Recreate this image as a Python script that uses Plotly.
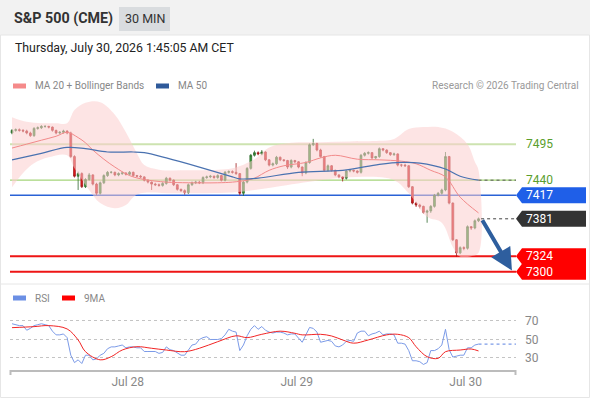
import plotly.graph_objects as go

W, H = 590, 400

# 30 min candles, bar 0 = first bar on screen
opens = [7512, 7516, 7517, 7516, 7515, 7512, 7508, 7519, 7520, 7522,
         7522, 7521, 7516, 7512, 7513, 7515, 7512, 7476, 7446, 7450,
         7430, 7441, 7448, 7434, 7420, 7436, 7447, 7452, 7452, 7448,
         7450, 7451, 7449, 7452, 7447, 7446, 7445, 7440, 7437, 7434,
         7433, 7432, 7435, 7443, 7440, 7433, 7426, 7424, 7421, 7433,
         7436, 7437, 7436, 7444, 7445, 7446, 7444, 7447, 7440, 7452,
         7453, 7452, 7450, 7420, 7437, 7458, 7478, 7482, 7480, 7483,
         7471, 7463, 7465, 7475, 7471, 7470, 7460, 7470, 7468, 7460,
         7451, 7467, 7494, 7496, 7486, 7476, 7455, 7462, 7455, 7448,
         7445, 7443, 7454, 7455, 7454, 7452, 7478, 7481, 7482, 7474,
         7476, 7488, 7486, 7482, 7479, 7480, 7463, 7463, 7462, 7430,
         7405, 7402, 7400, 7391, 7393, 7400, 7417, 7420, 7425, 7476,
         7405, 7349, 7329, 7337, 7336, 7369, 7367, 7378]
highs = [7518, 7519, 7519, 7518, 7517, 7514, 7521, 7522, 7524, 7524,
         7523, 7522, 7517, 7515, 7517, 7516, 7514, 7478, 7453, 7452,
         7443, 7451, 7449, 7436, 7438, 7449, 7454, 7454, 7453, 7452,
         7453, 7452, 7454, 7453, 7448, 7448, 7446, 7441, 7438, 7436,
         7435, 7437, 7445, 7444, 7441, 7434, 7427, 7426, 7435, 7438,
         7439, 7439, 7446, 7447, 7448, 7447, 7449, 7448, 7454, 7455,
         7455, 7466, 7451, 7439, 7460, 7480, 7485, 7484, 7486, 7484,
         7472, 7467, 7477, 7476, 7472, 7471, 7472, 7471, 7469, 7461,
         7469, 7496, 7503, 7497, 7488, 7477, 7464, 7463, 7456, 7449,
         7446, 7456, 7457, 7456, 7455, 7480, 7483, 7484, 7483, 7477,
         7490, 7489, 7487, 7483, 7482, 7481, 7465, 7465, 7463, 7431,
         7407, 7404, 7401, 7395, 7402, 7419, 7422, 7427, 7483, 7477,
         7406, 7350, 7339, 7339, 7371, 7370, 7380, 7383]
lows = [7510, 7514, 7514, 7513, 7510, 7506, 7506, 7517, 7518, 7520,
        7519, 7514, 7510, 7510, 7511, 7510, 7474, 7444, 7425, 7428,
        7428, 7439, 7432, 7417, 7418, 7434, 7445, 7450, 7446, 7446,
        7448, 7447, 7447, 7445, 7444, 7443, 7438, 7435, 7425, 7431,
        7430, 7430, 7433, 7438, 7431, 7424, 7422, 7418, 7419, 7431,
        7434, 7434, 7434, 7442, 7443, 7442, 7442, 7438, 7438, 7450,
        7450, 7448, 7417, 7416, 7435, 7456, 7476, 7478, 7478, 7469,
        7461, 7461, 7463, 7469, 7468, 7457, 7458, 7466, 7458, 7446,
        7449, 7465, 7492, 7484, 7474, 7453, 7453, 7453, 7446, 7443,
        7438, 7441, 7452, 7452, 7450, 7450, 7476, 7479, 7472, 7472,
        7474, 7484, 7480, 7477, 7477, 7461, 7460, 7460, 7428, 7403,
        7399, 7397, 7389, 7375, 7390, 7398, 7415, 7418, 7423, 7403,
        7347, 7323, 7327, 7333, 7334, 7364, 7365, 7376]
closes = [7516, 7517, 7516, 7515, 7512, 7508, 7519, 7520, 7522, 7522,
          7521, 7516, 7512, 7513, 7515, 7512, 7476, 7446, 7450, 7430,
          7441, 7448, 7434, 7420, 7436, 7447, 7452, 7452, 7448, 7450,
          7451, 7449, 7452, 7447, 7446, 7445, 7440, 7437, 7434, 7433,
          7432, 7435, 7443, 7440, 7433, 7426, 7424, 7421, 7433, 7436,
          7437, 7436, 7444, 7445, 7446, 7444, 7447, 7440, 7452, 7453,
          7452, 7450, 7420, 7437, 7458, 7478, 7482, 7480, 7483, 7471,
          7463, 7465, 7475, 7471, 7470, 7460, 7470, 7468, 7460, 7451,
          7467, 7494, 7496, 7486, 7476, 7455, 7462, 7455, 7448, 7445,
          7443, 7454, 7455, 7454, 7452, 7478, 7481, 7482, 7474, 7476,
          7488, 7486, 7482, 7479, 7480, 7463, 7463, 7462, 7430, 7405,
          7402, 7400, 7391, 7393, 7400, 7417, 7420, 7425, 7476, 7405,
          7349, 7329, 7337, 7336, 7369, 7367, 7378, 7381]

# indicators (bar position, value)
ma20_bar = [0, 4, 8, 12, 15, 18, 20, 22, 25, 28, 32, 36, 42, 48, 56, 60, 64, 66,
            70, 74, 80, 84, 88, 94, 100, 106, 110, 114, 118, 122, 127]
ma20 = [7489, 7495, 7501, 7507, 7513, 7505, 7497, 7486, 7472, 7460, 7447, 7441,
        7437, 7436, 7436, 7437, 7440, 7443, 7455, 7462, 7467, 7474, 7478, 7472,
        7471, 7469, 7465, 7455, 7445, 7414, 7390]
ma50_bar = [0, 8, 15, 20, 26, 33, 36, 42, 51, 60, 62, 67, 78, 90, 100, 106, 111,
            118, 122, 127]
ma50 = [7471, 7481, 7490, 7488, 7483, 7483, 7482, 7474, 7460, 7445, 7442, 7443,
        7452, 7455, 7464, 7467, 7466, 7457, 7446, 7440]
bb_up_bar = [0, 4, 8, 12, 15, 17, 20, 24, 28, 31, 34, 36, 40, 48, 56, 60, 66, 70,
             76, 84, 92, 100, 104, 108, 112, 116, 120, 124, 126, 127]
bb_up = [7536, 7529, 7527, 7527, 7527, 7547, 7558, 7559, 7540, 7513, 7481, 7463,
         7456, 7455, 7456, 7458, 7472, 7490, 7497, 7498, 7499, 7500, 7503, 7518,
         7521, 7521, 7514, 7495, 7468, 7455]
bb_lo_bar = [0, 3, 6, 10, 15, 17, 21, 24, 28, 31, 33, 35, 44, 53, 60, 66, 72, 84,
             94, 104, 108, 113, 117, 120, 122, 125, 127]
bb_lo = [7429, 7451, 7466, 7475, 7478, 7458, 7425, 7405, 7397, 7402, 7414, 7420,
         7420, 7420, 7421, 7425, 7430, 7440, 7445, 7440, 7420, 7384, 7375, 7338,
         7323, 7324, 7329]

rsi = [67, 66, 65, 65, 60, 62, 65, 66, 67, 66,
       65, 59, 55, 55, 56, 52, 33, 25, 28, 24,
       33, 33, 28, 29, 33, 35, 40, 42, 42, 43,
       44, 41, 42, 42, 41, 41, 37, 37, 37, 37,
       35, 36, 42, 39, 38, 35, 33, 33, 39, 44,
       45, 50, 52, 53, 50, 50, 50, 51, 55, 61,
       59, 58, 38, 44, 54, 61, 65, 61, 64, 60,
       58, 57, 58, 58, 57, 55, 56, 56, 51, 47,
       55, 63, 62, 58, 47, 48, 49, 48, 43, 42,
       44, 48, 49, 48, 57, 59, 59, 54, 56, 57,
       59, 55, 56, 56, 55, 46, 46, 45, 38, 27,
       27, 26, 23, 25, 38, 38, 40, 44, 61, 39,
       31, 32, 33, 33, 41, 41, 44, 45]
ma9_bar = [0, 6, 10, 15, 18, 20, 24, 27, 30, 34, 38, 42, 47, 51, 56, 61, 64, 68,
           73, 77, 79, 84, 87, 90, 93, 97, 102, 105, 108, 110, 113, 116, 118,
           122, 125, 127]
ma9 = [62.8, 63.9, 65, 61.4, 49.5, 36.8, 28, 31.4, 38.6, 42.2, 40.5, 38.6, 36.8,
       40.5, 47.6, 54, 52, 55.6, 59, 56.7, 55, 55.6, 53.8, 49.5, 46, 49.5, 55,
       55.6, 52, 42.2, 31.4, 29.6, 36.8, 38.6, 39.7, 37.6]

day_ticks = [31.5, 77.5, 123.5]
day_labels = ["Jul 28", "Jul 29", "Jul 30"]

resistances = [7495, 7440]
pivot = 7417
last_price = 7381
supports = [7324, 7300]
rsi_levels = [30, 50, 70]

FONT = "Roboto"
bars = list(range(len(closes)))
x_range = [-0.55, 137.2]
y_range = [7283, 7570]
rsi_range = [17, 92.7]


def px(x):
    return x / W


def py(y):
    return 1 - y / H


fig = go.Figure()

# bollinger band area
fig.add_trace(go.Scatter(
    x=bb_up_bar + bb_lo_bar[::-1], y=bb_up + bb_lo[::-1],
    fill="toself", fillcolor="rgba(252,205,205,0.55)", mode="lines",
    line=dict(width=0, shape="spline"), hoverinfo="skip",
    xaxis="x", yaxis="y"))
fig.add_trace(go.Scatter(x=ma20_bar, y=ma20, mode="lines",
                         line=dict(color="#f28a8a", width=1, shape="spline"),
                         xaxis="x", yaxis="y"))
fig.add_trace(go.Scatter(x=ma50_bar, y=ma50, mode="lines",
                         line=dict(color="#4a72b0", width=1.2, shape="spline"),
                         xaxis="x", yaxis="y"))
fig.add_trace(go.Candlestick(
    x=bars, open=opens, high=highs, low=lows, close=closes,
    increasing=dict(fillcolor="#34a034", line=dict(color="#2f6a2f", width=0.8)),
    decreasing=dict(fillcolor="#e8161c", line=dict(color="#a01c1c", width=0.8)),
    whiskerwidth=0, xaxis="x", yaxis="y"))

# rsi panel
fig.add_trace(go.Scatter(x=bars, y=rsi, mode="lines",
                         line=dict(color="#7c9be8", width=1),
                         xaxis="x2", yaxis="y2"))
fig.add_trace(go.Scatter(x=ma9_bar, y=ma9, mode="lines",
                         line=dict(color="#f22525", width=1, shape="spline"),
                         xaxis="x2", yaxis="y2"))
fig.add_trace(go.Scatter(x=[bars[-1], x_range[1]], y=[rsi[-1], rsi[-1]], mode="lines",
                         line=dict(color="#7c9be8", width=1.2, dash="dot"),
                         xaxis="x2", yaxis="y2"))

shapes = []
annotations = []

# header + frame
shapes.append(dict(type="rect", xref="paper", yref="paper", x0=0, x1=1,
                   y0=py(35), y1=1, fillcolor="#f2f2f2", line_width=0, layer="below"))
shapes.append(dict(type="rect", xref="paper", yref="paper", x0=px(119), x1=px(170),
                   y0=py(31), y1=py(7), fillcolor="#d9dcdf", line_width=0, layer="below"))
shapes.append(dict(type="rect", xref="paper", yref="paper", x0=px(0.5), x1=px(589.5),
                   y0=py(397.5), y1=py(35), line=dict(color="#e6e6e6", width=1),
                   layer="below"))
shapes.append(dict(type="line", xref="paper", yref="paper", x0=0, x1=1,
                   y0=py(284), y1=py(284), line=dict(color="#e6e6e6", width=1)))

# key levels
shapes.append(dict(type="line", xref="x domain", yref="y", x0=0, x1=1,
                   y0=resistances[0], y1=resistances[0],
                   line=dict(color="#cde3b0", width=2), layer="below"))
shapes.append(dict(type="line", xref="x domain", yref="y", x0=0, x1=1,
                   y0=resistances[1], y1=resistances[1],
                   line=dict(color="#a5d57a", width=1.2), layer="below"))
shapes.append(dict(type="line", xref="x domain", yref="y", x0=0, x1=1,
                   y0=pivot, y1=pivot, line=dict(color="#2a62d6", width=1.5),
                   layer="below"))
for lv in supports:
    shapes.append(dict(type="line", xref="x domain", yref="y", x0=0, x1=1,
                       y0=lv, y1=lv, line=dict(color="#ee1515", width=2),
                       layer="below"))
# dotted continuation of last price and MA50
shapes.append(dict(type="line", xref="x", yref="y", x0=bars[-1] + 0.7, x1=x_range[1],
                   y0=last_price, y1=last_price,
                   line=dict(color="#444", width=1, dash="dot")))
shapes.append(dict(type="line", xref="x", yref="y", x0=bars[-1], x1=x_range[1],
                   y0=ma50[-1], y1=ma50[-1],
                   line=dict(color="#555", width=1, dash="dot")))

# price tags on the right
hh = 8 * (y_range[1] - y_range[0]) / (283 - 95)


def tag(level, color):
    path = "M {a},{m} L {b},{t} L {c},{t} L {c},{bo} L {b},{bo} Z".format(
        a=px(516), b=px(522), c=px(586), m=level, t=level + hh, bo=level - hh)
    shapes.append(dict(type="path", xref="paper", yref="y", path=path,
                       fillcolor=color, line_width=0))
    annotations.append(dict(xref="paper", yref="y", x=px(524), y=level,
                            xanchor="left", yanchor="middle", text=str(level),
                            showarrow=False,
                            font=dict(family=FONT, size=12, color="white")))


tag(pivot, "#1f5fe8")
tag(last_price, "#333333")
for lv in supports:
    tag(lv, "#ff0000")
for lv in resistances:
    annotations.append(dict(xref="paper", yref="y", x=px(524), y=lv,
                            xanchor="left", yanchor="middle", text=str(lv),
                            showarrow=False,
                            font=dict(family=FONT, size=12, color="#5a9e2c")))

# forecast arrow
annotations.append(dict(xref="x", yref="y", axref="x", ayref="y",
                        x=bars[-1] + 9.1, y=supports[-1] + 2,
                        ax=bars[-1] + 0.8, ay=last_price,
                        showarrow=True, arrowhead=2, arrowsize=1.1, arrowwidth=4,
                        arrowcolor="#2e5e9e", text=""))

# header texts
annotations.append(dict(xref="paper", yref="paper", x=px(12), y=py(18),
                        xanchor="left", yanchor="middle", showarrow=False,
                        text="<b>S&P 500 (CME)</b>",
                        font=dict(family=FONT, size=14.3, color="#333")))
annotations.append(dict(xref="paper", yref="paper", x=px(144.5), y=py(19),
                        xanchor="center", yanchor="middle", showarrow=False,
                        text="30 MIN", font=dict(family=FONT, size=12.5, color="#333")))
annotations.append(dict(xref="paper", yref="paper", x=px(13), y=py(48),
                        xanchor="left", yanchor="middle", showarrow=False,
                        text="Thursday, July 30, 2026 1:45:05 AM CET",
                        font=dict(family=FONT, size=12.3, color="#222")))
annotations.append(dict(xref="paper", yref="paper", x=px(581), y=py(86),
                        xanchor="right", yanchor="middle", showarrow=False,
                        text="Research © 2026 Trading Central",
                        font=dict(family=FONT, size=10, color="#999")))

# legends
for x0, yl, color, label in [(13, 86, "#f58a8a", "MA 20 + Bollinger Bands"),
                             (156, 86, "#2f5a9a", "MA 50"),
                             (13, 298, "#6b8fe4", "RSI"),
                             (62, 298, "#ff0000", "9MA")]:
    shapes.append(dict(type="rect", xref="paper", yref="paper", x0=px(x0),
                       x1=px(x0 + 13), y0=py(yl + 2.5), y1=py(yl - 2.5),
                       fillcolor=color, line_width=0))
    annotations.append(dict(xref="paper", yref="paper", x=px(x0 + 20), y=py(yl),
                            xanchor="left", yanchor="middle", showarrow=False,
                            text=label, font=dict(family=FONT, size=10, color="#888")))

# end marks of the time axis
for xe in [px(10.5), px(515.5)]:
    shapes.append(dict(type="line", xref="paper", yref="paper", x0=xe, x1=xe,
                       y0=py(370), y1=py(375), line=dict(color="#bcbcbc", width=2)))

fig.update_layout(
    width=W, height=H, margin=dict(l=0, r=0, t=0, b=0),
    paper_bgcolor="white", plot_bgcolor="rgba(0,0,0,0)",
    showlegend=False, shapes=shapes, annotations=annotations,
    font=dict(family=FONT),
    xaxis=dict(domain=[px(10), px(516)], range=x_range, showticklabels=False,
               showgrid=False, zeroline=False, rangeslider=dict(visible=False),
               anchor="y"),
    yaxis=dict(domain=[py(283), py(95)], range=y_range, showticklabels=False,
               showgrid=False, zeroline=False, anchor="x"),
    xaxis2=dict(domain=[px(10), px(516)], range=x_range, tickvals=day_ticks,
                ticktext=day_labels, showgrid=False, zeroline=False,
                showline=True, linecolor="#bcbcbc", linewidth=2, ticks="",
                tickfont=dict(family=FONT, size=12, color="#888"), anchor="y2"),
    yaxis2=dict(domain=[py(370), py(300)], range=rsi_range, tickvals=rsi_levels,
                side="right", showgrid=True, gridcolor="#c4c4c4", griddash="dot",
                zeroline=False, ticks="", ticklabelstandoff=8,
                tickfont=dict(family=FONT, size=12, color="#888"), anchor="x2"),
)

# page body has a default margin; remove it so the figure sits at the window corner
fig.write_html("out.html", config={"displayModeBar": False},
               post_script="document.body.style.margin='0px';")
